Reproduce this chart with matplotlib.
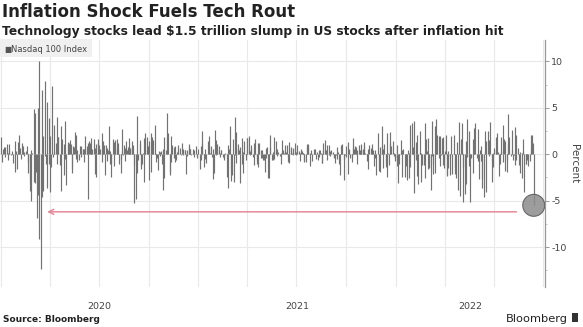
import matplotlib
matplotlib.use("Agg")
import matplotlib.pyplot as plt
import matplotlib.dates as mdates
import matplotlib.patches as mpatches
from matplotlib.ticker import MultipleLocator
import pandas as pd

plt.rcParams["font.family"] = ["DejaVu Sans"]
plt.rcParams["axes.unicode_minus"] = False

title = "Inflation Shock Fuels Tech Rout"
subtitle = "Technology stocks lead $1.5 trillion slump in US stocks after inflation hit"
series_name = "Nasdaq 100 Index"
source_text = "Source: Bloomberg"
brand_text = "Bloomberg"
y_label = "Percent"
y_ticks = [-10, -5, 0, 5, 10]
y_tick_labels = ["-10", "-5", "0", "5", "10"]
year_labels = ["2020", "2021", "2022"]

first_day = "2020-01-02"
last_day = "2022-09-13"
holidays = ["2020-01-01", "2020-01-20", "2020-02-17", "2020-04-10", "2020-05-25",
            "2020-07-03", "2020-09-07", "2020-11-26", "2020-12-25",
            "2021-01-01", "2021-01-18", "2021-02-15", "2021-04-02", "2021-05-31",
            "2021-07-05", "2021-09-06", "2021-11-25", "2021-12-24",
            "2022-01-17", "2022-02-21", "2022-04-15", "2022-05-30", "2022-06-20",
            "2022-07-04", "2022-09-05"]

# Daily % change of the Nasdaq 100, one line per month
ret_2020 = [
    1.9, -0.8, 0.6, 0.0, 0.8, 0.8, -0.3, 1.1, -0.6, 0.1, 1.1, 0.4, -0.1, 0.1, 0.3, -0.9, -1.9, 1.4, 0.1, 0.3, -1.6,
    1.3, 2.1, 0.4, 0.7, -0.5, 1.2, 0.1, 0.9, -0.2, 0.2, 0.3, 0.9, -0.8, -2.0, -4.0, -2.9, 0.4, -5.0, 0.1,
    4.9, -3.0, 4.4, -3.1, -1.9, -6.9, 5.0, -4.4, -9.1, 10.0, -12.3, 6.9, -4.6, 2.0, -4.0, -0.2, 7.9, -1.1, 5.6, -3.6, 3.9, -1.0,
    -4.1, 2.0, -1.4, 7.3, -0.3, 3.1, 0.3, 1.2, 4.0, -1.1, 1.8, 1.8, -1.2, -4.0, 3.0, 0.0, 1.6, 1.1, -2.2, 3.6, -0.5,
    -3.3, 1.3, 1.0, 1.2, 1.1, 1.5, 1.1, -2.0, -1.6, 0.9, 0.8, 2.4, -0.5, 2.1, -0.8, 0.5, -0.6, 0.9, -0.3, 0.9,
    0.6, 0.6, 0.6, -0.8, 2.0, 0.9, 0.6, 1.2, -4.8, 1.4, 1.2, 1.7, 0.1, 0.6, 0.0, 1.6, 0.7, -2.1, 1.1, -2.4, 1.2, 1.6,
    1.0, 0.6, 2.3, -0.8, 1.4, 1.0, 1.0, -2.2, 1.0, 0.7, -0.7, 0.4, 3.0, -1.1, 0.3, -2.4, -0.9, 1.6, -1.3, 1.3, 0.8, 1.5,
    1.6, 0.4, 0.6, 1.2, -1.0, -0.6, -2.0, 2.7, 0.3, -0.1, 1.0, 0.7, -0.7, 1.4, 0.5, 0.8, 0.9, 1.7, 0.7, 0.6, 0.8,
    1.4, 1.0, -5.2, -1.2, -4.8, 4.1, -2.0, -0.6, 1.1, 1.5, -1.6, -1.3, -1.1, 0.1, 1.7, -3.0, 0.4, 2.3, 1.9, 0.6, 0.9,
    1.4, -2.8, 2.3, -1.9, 1.9, 0.5, 1.5, 3.1, 0.1, -0.8, -0.1, -0.4, -1.7, 0.3, -0.2, 0.2, 0.3, -1.1, 0.6, -3.8, 1.8, -2.6,
    0.4, 1.9, 4.4, 2.3, 0.0, -2.2, -1.9, 2.0, -0.8, 1.0, 0.8, -0.4, -0.8, 0.9, -0.6, 0.2, 1.0, 0.5, 0.7, -0.1,
    1.2, 0.0, -0.1, 0.6, 0.5, 0.4, -2.1, 0.5, -0.2, 0.9, 1.1, 0.6, 0.6, -0.1, 0.1, 0.6, -0.3, 0.4, 0.9, -0.4, -0.2, 0.6,
]
ret_2021 = [
    -1.6, 0.9, -0.6, 2.5, 1.2, -1.4, -0.1, 0.6, -0.5, -0.9, 1.4, 2.0, 0.8, 0.1, 0.9, -0.3, -2.7, 0.6, -2.0,
    2.6, 1.5, -0.1, 1.1, 0.4, 0.9, 0.1, -0.3, 0.4, 0.5, -0.3, -0.4, -0.6, 0.1, -2.5, -0.1, 1.0, -3.6, 0.6,
    3.0, -1.7, -2.9, -2.2, 1.6, -3.0, 4.0, -0.1, 2.4, -0.9, 1.1, 0.7, 0.4, -3.1, 0.8, 1.7, -1.1, -2.0, 0.2, 1.4, -0.1, -0.6, 1.7,
    1.7, 2.0, -0.1, 0.3, 1.0, 0.7, -0.3, 1.2, -1.2, 1.6, 0.1, -1.0, -0.6, 1.2, -1.4, 1.2, 0.4, -0.4, -0.4, 0.4, -0.6,
    -0.6, -1.9, -0.4, 0.7, 0.8, -2.6, -0.1, -2.6, 0.8, 2.1, -0.6, -0.6, 0.2, 1.9, -0.5, 1.4, 0.3, 0.6, -0.2, 0.2,
    -0.2, 0.1, -1.0, 1.5, 0.5, 0.0, 0.1, 1.0, 0.2, 1.0, -0.8, -0.3, 1.3, -0.9, 0.7, 0.8, 0.1, 0.7, -0.1, 1.2, 0.3, -0.1,
    0.2, 1.0, 0.3, 0.1, -0.7, 0.6, 0.3, 0.1, 0.1, -0.7, -0.8, -0.8, 1.1, 0.8, 0.8, 1.1, 0.1, -1.3, 0.4, 0.1, -0.7,
    0.1, 0.6, 0.1, 0.6, -0.5, 0.2, -0.6, -0.3, 0.4, 0.5, 0.1, -0.9, -0.9, 0.5, 1.2, 1.5, 0.4, 0.2, -0.6, 1.0, 1.0, -0.1,
    0.3, -0.2, 0.4, 0.2, -0.3, -0.4, -0.9, -0.1, -0.5, 0.8, 0.2, -1.0, -2.2, 0.1, 1.0, 1.1, 0.1, -0.5, -2.8, -0.1, -0.3,
    0.9, -2.1, 1.3, 0.5, 0.6, -0.4, -0.8, -0.3, 0.8, 1.7, 0.6, 0.9, 0.8, 0.1, 0.5, -1.0, 1.0, 0.1, 0.4, 1.1, 0.5,
    0.6, 0.4, 1.0, 1.3, 0.1, -0.1, -0.7, -1.6, 0.6, 1.0, 0.0, 0.7, 0.1, 1.1, 0.5, -1.3, -0.4, 0.4, -2.2, 2.3, -1.6,
    -1.8, 0.8, -1.9, 0.9, 3.0, 0.6, -1.5, 1.1, -1.4, -1.1, 2.3, -2.5, 0.1, -1.2, 2.4, 1.2, 0.9, 1.4, -0.2, 0.1, -0.4, -0.7,
]
ret_2022 = [
    1.0, -1.3, -3.1, -0.1, -1.0, 0.1, 1.5, 0.4, -2.5, 0.6, -2.5, -1.1, -1.3, -2.8, 0.4, -2.6, 0.1, -1.4, 3.1, 3.4,
    0.8, 0.7, -4.2, 3.6, -0.6, 1.3, 2.1, -2.3, -3.2, 0.1, 2.5, 0.1, -3.0, -1.2, -1.2, -2.6, 3.4, 1.6, 0.3,
    -1.6, 1.7, -1.5, -1.4, -3.8, -0.2, 3.6, -1.0, -2.1, -2.0, 3.0, 3.8, 1.3, 2.1, -0.4, 2.0, -1.3, 2.0, -0.1, 1.7, 1.9, -1.2, -1.5,
    0.3, 2.1, -2.3, -2.2, 0.3, -1.5, -2.2, -0.3, 2.0, -2.1, 0.1, 2.1, -1.4, -2.1, -2.6, 1.3, -3.9, 0.1, 3.5, -4.5,
    1.6, 0.2, 3.4, -5.1, -1.4, -4.3, 1.4, -3.2, -0.3, 3.8, -1.3, 2.5, -5.1, -0.3, -0.4, 1.6, -2.0, 1.5, 2.8, 3.4, -0.4,
    -0.7, 2.7, -2.7, 0.4, 0.9, -0.7, -2.7, -3.6, -4.6, 0.2, 2.5, -4.1, 1.4, 2.5, -0.2, 1.5, 3.5, -0.7, -3.0, 0.1, -1.4,
    0.7, 1.8, 0.4, 2.3, 0.2, -2.3, -1.0, -0.1, 0.3, 1.8, -0.8, 3.1, 1.6, 1.4, -1.8, -0.6, -1.9, 4.3, 1.1, 1.8,
    0.0, -0.2, 2.6, 0.4, -0.6, -0.1, -1.2, 2.9, -0.6, 2.1, 0.7, -0.2, -1.2, 0.2, -2.0, -2.6, 0.1, 0.3, 1.6, -4.1, -1.0, -1.1, -0.6,
    -0.3, -1.3, -0.7, 2.1, 0.6, 2.1, 1.2, -5.5,
]

# arrow annotation span (dates) and level
arrow_from = "2022-08-12"
arrow_to = "2020-03-27"
arrow_level = -6.2

dates = pd.bdate_range(first_day, last_day, freq="C", holidays=holidays)
values = ret_2020 + ret_2021 + ret_2022
n = min(len(dates), len(values))
dates = dates[:n]
values = values[:n]

fig = plt.figure(figsize=(5.83, 3.27), dpi=100)
ax = fig.add_axes([0.0, 0.122, 0.935, 0.756])

x_left = pd.Timestamp("2019-12-31")
x_right = pd.Timestamp("2022-10-04")
ax.set_xlim(x_left, x_right)
ax.set_ylim(-14.3, 12.3)

ax.vlines(dates, 0, values, color="#727272", linewidth=0.85, zorder=2)

# grid
ax.xaxis.set_major_locator(mdates.MonthLocator(bymonth=[1, 4, 7, 10]))
ax.xaxis.set_major_formatter(plt.NullFormatter())
ax.tick_params(axis="x", length=0)
ax.grid(True, axis="both", color="#e9e9e9", linewidth=0.8, zorder=0)
ax.set_axisbelow(True)

# year labels centred on visible part of each year
for lab in year_labels:
    s = max(pd.Timestamp(f"{lab}-01-01"), x_left)
    e = min(pd.Timestamp(f"{int(lab) + 1}-01-01"), x_right)
    mid = s + (e - s) / 2
    ax.text(mid, -0.062, lab, transform=ax.get_xaxis_transform(), ha="center", va="top",
            fontsize=6.8, color="#444444")

# y axis on the right
ax.yaxis.tick_right()
ax.yaxis.set_label_position("right")
ax.set_yticks(y_ticks)
ax.set_yticklabels(y_tick_labels)
ax.yaxis.set_minor_locator(MultipleLocator(2.5))
ax.tick_params(axis="y", which="major", length=3, width=0.7, color="#999999", labelsize=6.8,
               labelcolor="#444444", pad=1.5)
ax.tick_params(axis="y", which="minor", length=1.5, width=0.6, color="#bbbbbb")
ax.set_ylabel(y_label, rotation=270, fontsize=7.5, color="#444444", labelpad=9)
for sp in ["left", "top", "bottom"]:
    ax.spines[sp].set_visible(False)
ax.spines["right"].set_color("#999999")
ax.spines["right"].set_linewidth(0.9)

# highlight last point
last_x = dates[-1]
last_y = values[-1]
circ_w = (x_right - x_left).days / 545 * 22
circle = mpatches.Ellipse((mdates.date2num(last_x), last_y), width=circ_w, height=22 / 9.3,
                          facecolor="#8c8c8c", edgecolor="#555555", linewidth=0.8, alpha=0.85, zorder=4)
ax.add_patch(circle)

ax.annotate("", xy=(pd.Timestamp(arrow_to), arrow_level), xytext=(pd.Timestamp(arrow_from), arrow_level),
            arrowprops=dict(arrowstyle="->", color="#e58a9a", lw=1.1, mutation_scale=9,
                            shrinkA=0, shrinkB=0), zorder=3)

# legend box
leg_box = mpatches.Rectangle((0.0, 0.93), 0.168, 0.075, transform=ax.transAxes, clip_on=False,
                             facecolor="#f0f0f0", edgecolor="none", zorder=5)
ax.add_patch(leg_box)
ax.text(0.007, 0.962, "\u25A0", transform=ax.transAxes, fontsize=5.5, color="#555555", va="center", zorder=6)
ax.text(0.021, 0.962, series_name, transform=ax.transAxes, fontsize=6, color="#444444", va="center", zorder=6)

# titles
fig.text(0.004, 0.963, title, fontsize=12, fontweight="bold", color="#222222", va="center")
fig.text(0.004, 0.903, subtitle, fontsize=8.8, fontweight="bold", color="#222222", va="center")
fig.text(0.006, 0.008, source_text, fontsize=6.5, fontweight="bold", color="#222222", va="bottom")
fig.text(0.974, 0.008, brand_text, fontsize=8.2, color="#222222", va="bottom", ha="right")
fig.patches.append(mpatches.Rectangle((0.981, 0.016), 0.011, 0.026, transform=fig.transFigure,
                                      facecolor="#333333", edgecolor="none"))

fig.savefig("out.png", dpi=100)
